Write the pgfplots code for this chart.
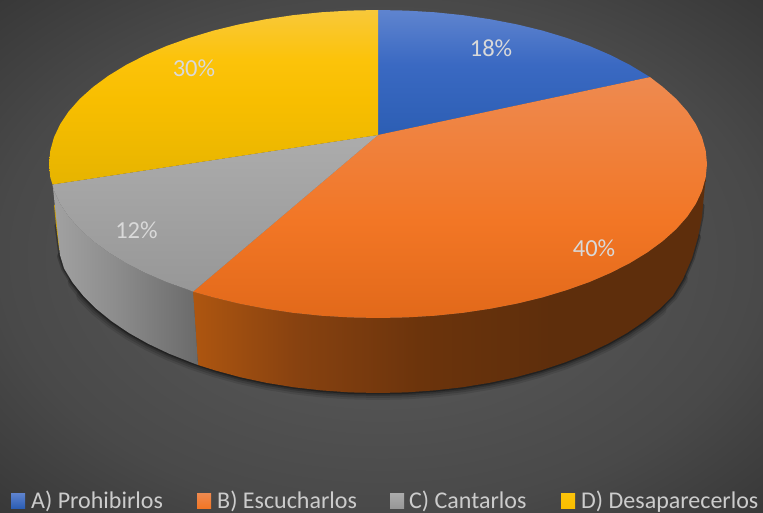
\documentclass[border=0pt]{standalone}
\usepackage{fontspec}
\setmainfont{Carlito}
\usepackage{pgfplots}
\usepackage{pgfplotstable}
\pgfplotsset{compat=1.18}
\definecolor{bgA}{HTML}{5E5E5E}
\definecolor{bgB}{HTML}{494949}
\definecolor{bgC}{HTML}{383838}
\definecolor{osA}{HTML}{AE5610}
\definecolor{osB}{HTML}{884210}
\definecolor{osC}{HTML}{6C340C}
\definecolor{osD}{HTML}{5E2E0C}
\definecolor{gsA}{HTML}{A2A2A2}
\definecolor{gsB}{HTML}{8C8C8C}
\definecolor{gsC}{HTML}{6A6A6A}
\definecolor{blA}{HTML}{5F84CF}
\definecolor{blB}{HTML}{3A69C2}
\definecolor{blC}{HTML}{2C5EB4}
\definecolor{orA}{HTML}{EE8A50}
\definecolor{orB}{HTML}{F27625}
\definecolor{orC}{HTML}{E2691A}
\definecolor{yeA}{HTML}{F8C83A}
\definecolor{yeB}{HTML}{FCC30A}
\definecolor{yeC}{HTML}{F8BE00}
\definecolor{yeD}{HTML}{E6B400}
\definecolor{grA}{HTML}{ACACAC}
\definecolor{grB}{HTML}{979797}
\pgfdeclareradialshading{bgshade}{\pgfpoint{0bp}{0bp}}{color(0bp)=(bgA); color(25bp)=(bgB); color(35.5bp)=(bgC); color(50bp)=(bgC)}
\pgfdeclarehorizontalshading{orangeside}{100bp}{color(0bp)=(osA); color(25bp)=(osA); color(35bp)=(osB); color(47bp)=(osC); color(60bp)=(osD); color(100bp)=(osD)}
\pgfdeclarehorizontalshading{grayside}{100bp}{color(0bp)=(gsA); color(25bp)=(gsA); color(47bp)=(gsB); color(75bp)=(gsC); color(100bp)=(gsC)}
\pgfdeclareverticalshading{blueface}{100bp}{color(0bp)=(blC); color(25bp)=(blC); color(53bp)=(blB); color(75bp)=(blA); color(100bp)=(blA)}
\pgfdeclareverticalshading{orangeface}{100bp}{color(0bp)=(orC); color(25bp)=(orC); color(45bp)=(orB); color(75bp)=(orA); color(100bp)=(orA)}
\pgfdeclareverticalshading{yellowface}{100bp}{color(0bp)=(yeD); color(25bp)=(yeD); color(49bp)=(yeC); color(61bp)=(yeB); color(75bp)=(yeA); color(100bp)=(yeA)}
\pgfplotstableread{
x y
56 225
60 256
64.1 268.5
72.6 282.5
83.4 296
96.5 309
111.8 321.4
129 333
148.2 343.8
169.1 353.7
191.6 362.6
215.5 370.5
240.6 377.3
266.8 382.9
293.9 387.3
321.6 390.4
349.7 392.4
378 393
406.3 392.4
434.4 390.4
462.1 387.3
489.2 382.9
515.4 377.3
540.5 370.5
564.4 362.6
586.9 353.7
607.8 343.8
627 333
644.2 321.4
659.5 309
672.6 296
683 279
692 258
698 237
702 217
703 205
}\frontarc
\begin{document}
\begin{tikzpicture}
\useasboundingbox (0,0) rectangle (763pt,513pt);
\begin{axis}[
  at={(0,0)}, anchor=south west,
  scale only axis, width=763pt, height=513pt,
  xmin=0, xmax=763, ymin=0, ymax=513, y dir=reverse,
  hide axis, clip=false, no markers,
]
% background
\addplot[draw=none, shade, shading=bgshade] coordinates {(0,0) (763,0) (763,513) (0,513)};
% shadow
\addplot[black, opacity=0.10, line width=14pt, line join=round, line cap=round, skip coords between index={0}{4}, skip coords between index={30}{36}] table[x=x,y=y] {\frontarc};
\addplot[black, opacity=0.14, line width=10pt, line join=round, line cap=round, skip coords between index={0}{3}, skip coords between index={32}{36}] table[x=x,y=y] {\frontarc};
\addplot[black, opacity=0.20, line width=6pt, line join=round, line cap=round, skip coords between index={0}{1}, skip coords between index={34}{36}] table[x=x,y=y] {\frontarc};
\addplot[black, opacity=0.30, line width=3pt, line join=round, line cap=round] table[x=x,y=y] {\frontarc};
% yellow sliver of side
\addplot[draw=none, fill={rgb,255:red,200;green,155;blue,0}] coordinates {(54,205) (56,225) (59.2,250) (62,250) (60,205)};
% orange side
\addplot[draw=none, shade, shading=orangeside] coordinates {
(193,291.7) (213.5,297.4) (239,303.6) (265.5,308.7) (292.8,312.8) (320.9,315.7) (349.3,317.4) (378,318)
(406.7,317.4) (435.1,315.7) (463.2,312.8) (490.5,308.7) (517,303.6) (542.5,297.4) (566.7,290.1) (589.5,282)
(610.6,272.9) (630,263) (647.5,252.3) (662.9,241) (676.2,229.1) (687.2,216.7) (695.8,203.9) (702,190.7) (705.7,177.4)
(705,185) (703,205) (702,217) (698,237) (692,258) (683,279) (672.6,296)
(659.5,309) (644.2,321.4) (627,333) (607.8,343.8) (586.9,353.7) (564.4,362.6) (540.5,370.5) (515.4,377.3)
(489.2,382.9) (462.1,387.3) (434.4,390.4) (406.3,392.4) (378,393) (349.7,392.4) (321.6,390.4) (293.9,387.3)
(266.8,382.9) (240.6,377.3) (215.5,370.5) (198,365)};
% gray side
\addplot[draw=none, shade, shading=grayside] coordinates {
(52.7,185) (54,190.7) (60.2,203.9) (68.8,216.7) (79.8,229.1) (93.1,241) (108.5,252.3) (126,263) (145.4,272.9)
(166.5,282) (189.3,290.1) (193,291.7) (198,365) (191.6,362.6) (169.1,353.7) (148.2,343.8) (129,333) (111.8,321.4)
(96.5,309) (83.4,296) (72.6,282.5) (64.1,268.5) (60,255)};
% top faces
\addplot[draw=none, shade, shading=blueface] coordinates {
(378,135) (378,10) (406.7,10.6) (435.1,12.3) (463.2,15.2) (490.5,19.3) (517,24.4) (542.5,30.6) (566.7,37.9)
(589.5,46) (610.6,55.1) (630,65) (650,77.1)};
\addplot[draw=none, shade, shading=orangeface] coordinates {
(378,135) (650,77.1) (662.9,87) (676.2,98.9) (687.2,111.3) (695.8,124.1) (702,137.3) (705.7,150.6) (707,164)
(705.7,177.4) (702,190.7) (695.8,203.9) (687.2,216.7) (676.2,229.1) (662.9,241) (647.5,252.3) (630,263)
(610.6,272.9) (589.5,282) (566.7,290.1) (542.5,297.4) (517,303.6) (490.5,308.7) (463.2,312.8) (435.1,315.7)
(406.7,317.4) (378,318) (349.3,317.4) (320.9,315.7) (292.8,312.8) (265.5,308.7) (239,303.6) (213.5,297.4) (193,291.7)};
\addplot[draw=none, shade, top color=grA, bottom color=grB] coordinates {
(378,135) (193,291.7) (189.3,290.1) (166.5,282) (145.4,272.9) (126,263) (108.5,252.3) (93.1,241) (79.8,229.1)
(68.8,216.7) (60.2,203.9) (54,190.7) (52.5,184.5)};
\addplot[draw=none, shade, shading=yellowface] coordinates {
(378,135) (52.5,184.5) (50.3,177.4) (49,164) (50.3,150.6) (54,137.3) (60.2,124.1) (68.8,111.3) (79.8,98.9) (93.1,87)
(108.5,75.7) (126,65) (145.4,55.1) (166.5,46) (189.3,37.9) (213.5,30.6) (239,24.4) (265.5,19.3) (292.8,15.2)
(320.9,12.3) (349.3,10.6) (378,10)};
% legend swatches
\addplot[draw=none, shade, top color=blA, bottom color=blC] coordinates {(11,493) (25,493) (25,508) (11,508)};
\addplot[draw=none, shade, top color=orA, bottom color=orB] coordinates {(197,493) (211,493) (211,508) (197,508)};
\addplot[draw=none, shade, top color=grA, bottom color=grB] coordinates {(390,493) (404,493) (404,508) (390,508)};
\addplot[draw=none, shade, top color=yeB, bottom color=yeC] coordinates {(561,493) (575,493) (575,508) (561,508)};
% labels
\begin{scope}[every node/.style={text=white!85!black, font=\fontsize{24.5}{28}\selectfont, inner sep=0pt}]
\node[anchor=base] at (axis cs:491,56.5) {18\%};
\node[anchor=base] at (axis cs:594,257) {40\%};
\node[anchor=base] at (axis cs:136.5,238.5) {12\%};
\node[anchor=base] at (axis cs:194,77) {30\%};
\end{scope}
\begin{scope}[every node/.style={text=white!80!black, font=\fontsize{24}{28}\selectfont, inner sep=0pt, anchor=base west}]
\node at (axis cs:31,508) {A) Prohibirlos};
\node at (axis cs:217,508) {B) Escucharlos};
\node at (axis cs:409,508) {C) Cantarlos};
\node at (axis cs:581,508) {D) Desaparecerlos};
\end{scope}
\end{axis}
\end{tikzpicture}
\end{document}
